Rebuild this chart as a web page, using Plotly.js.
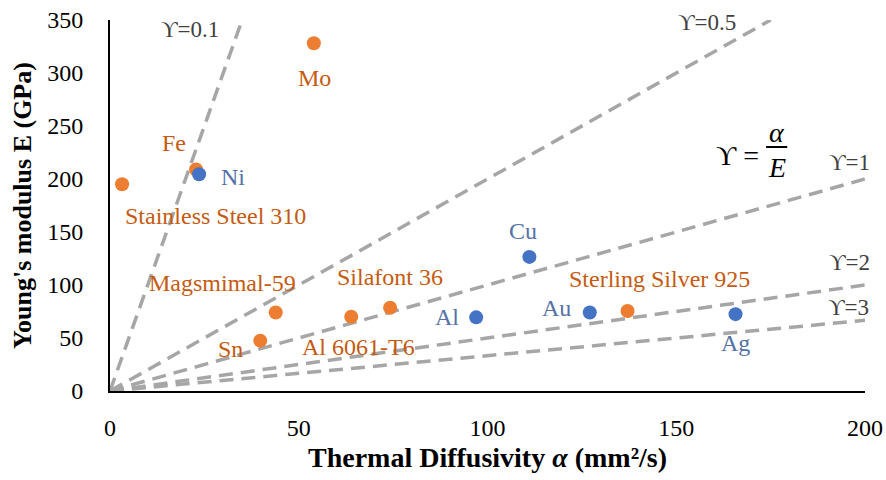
<!DOCTYPE html>
<html><head><meta charset="utf-8">
<script src="https://cdn.plot.ly/plotly-3.0.1.min.js"></script>
<style>html,body{margin:0;padding:0;background:#fff}#chart{width:886px;height:480px}</style>
</head><body><div id="chart"></div>
<script>
// Orange series (alloys / others)
const orangeNames = ["Stainless Steel 310","Fe","Mo","Magsmimal-59","Sn","Al 6061-T6","Silafont 36","Sterling Silver 925"];
const orangeAlpha = [3.2, 22.8, 54.0, 43.9, 39.8, 63.9, 74.2, 137.1];
const orangeE     = [195, 209, 328, 74, 47.5, 70, 78.5, 75.5];
// Blue series (pure metals)
const blueNames = ["Ni","Cu","Al","Au","Ag"];
const blueAlpha = [23.6, 111.1, 97.0, 127.1, 165.7];
const blueE     = [204.5, 126.5, 69.5, 74, 72.5];
// Reference lines ϒ = α/E
const gammas = [0.1, 0.5, 1, 2, 3];
const gammaLabels = ["ϒ=0.1","ϒ=0.5","ϒ=1","ϒ=2","ϒ=3"];
const xTicks = [0, 50, 100, 150, 200];
const yTicks = [0, 50, 100, 150, 200, 250, 300, 350];

const FONT = '"Liberation Serif", "Times New Roman", serif';
const orangeTxt = "#C55A11", blueTxt = "#5471A8";

// label pixel offsets (style/position, not data)
const orangeOff = [[93,-32],[-22,26],[1,-35],[-53,30],[-30,-8],[7,-30],[0,31],[32,32]];
const blueOff = [[34,-3],[-6,26],[-29,0],[-33,5],[0,-29]];
const gammaPos = [[21.2,340.6],[158.1,347.2],[196,216],[196,121.7],[195.5,79.2]];

const traces = [];
gammas.forEach(g => {
  const xEnd = Math.min(200, 350 * g);
  traces.push({x:[0, xEnd], y:[0, xEnd / g], mode:'lines', type:'scatter',
    line:{color:'#A6A6A6', width:3.5, dash:'14px,8px'}, hoverinfo:'skip', showlegend:false});
});
traces.push({x:orangeAlpha, y:orangeE, mode:'markers', type:'scatter', cliponaxis:false,
  marker:{color:'#ED7D31', size:14}, showlegend:false});
traces.push({x:blueAlpha, y:blueE, mode:'markers', type:'scatter', cliponaxis:false,
  marker:{color:'#4472C4', size:14}, showlegend:false});

const ann = [];
orangeNames.forEach((n,i)=>ann.push({x:orangeAlpha[i], y:orangeE[i], text:n, showarrow:false,
  xshift:orangeOff[i][0], yshift:orangeOff[i][1], font:{family:FONT, size:24, color:orangeTxt}}));
blueNames.forEach((n,i)=>ann.push({x:blueAlpha[i], y:blueE[i], text:n, showarrow:false,
  xshift:blueOff[i][0], yshift:blueOff[i][1], font:{family:FONT, size:24, color:blueTxt}}));
gammaLabels.forEach((t,i)=>ann.push({x:gammaPos[i][0], y:gammaPos[i][1], text:t, showarrow:false,
  font:{family:FONT, size:23, color:'#404040'}}));
ann.push({x:166.1, y:222.6, text:"ϒ =", showarrow:false, font:{family:FONT, size:28, color:'#000'}});
ann.push({x:176.6, y:243.5, text:"<i>α</i>", showarrow:false, font:{family:FONT, size:28, color:'#000'}});
ann.push({x:176.6, y:211, text:"<i>E</i>", showarrow:false, font:{family:FONT, size:28, color:'#000'}});

const layout = {
  width:886, height:480,
  margin:{l:110, r:21, t:20, b:89},
  paper_bgcolor:'#fff', plot_bgcolor:'#fff',
  font:{family:FONT, color:'#000'},
  xaxis:{range:[0,200], tickvals:xTicks, showgrid:false, zeroline:false, showline:true,
    linecolor:'#000', linewidth:2, ticks:'', ticklabelstandoff:14, tickfont:{family:FONT, size:24, color:'#000'},
    title:{text:"<b>Thermal Diffusivity <i>α</i> (mm²/s)</b>", font:{family:FONT, size:28, color:'#000'}, standoff:8}},
  yaxis:{range:[0,350], tickvals:yTicks, showgrid:false, zeroline:false, showline:true,
    linecolor:'#000', linewidth:2, ticks:'', ticklabelstandoff:20, tickfont:{family:FONT, size:24, color:'#000'},
    title:{text:"<b>Young's modulus E (GPa)</b>", font:{family:FONT, size:26, color:'#000'}, standoff:8}},
  annotations: ann,
  shapes:[{type:'line', xref:'x', yref:'y', x0:173.8, x1:179.4, y0:230.2, y1:230.2, line:{color:'#000', width:2}}]
};
Plotly.newPlot('chart', traces, layout, {displayModeBar:false, staticPlot:true});
</script></body></html>
